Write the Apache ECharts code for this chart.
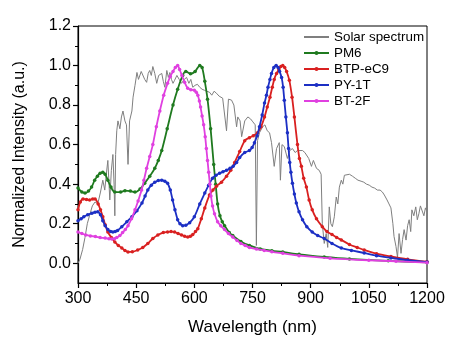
<!DOCTYPE html>
<html>
<head>
<meta charset="utf-8">
<script src="https://cdn.jsdelivr.net/npm/echarts@6/dist/echarts.min.js"></script>
<style>html,body{margin:0;padding:0;background:#fff}#c{width:455px;height:346px}</style>
</head>
<body>
<div id="c"></div>
<script>
const xTicks = [300, 450, 600, 750, 900, 1050, 1200];
const yTickLabels = [0.0, 0.2, 0.4, 0.6, 0.8, 1.0, 1.2];
const yMinorTicks = [0.1, 0.3, 0.5, 0.7, 0.9, 1.1];
const seriesNames = ['Solar spectrum', 'PM6', 'BTP-eC9', 'PY-1T', 'BT-2F'];

const solar = [[300,0.0],[305,0.02],[312,0.07],[318,0.13],[324,0.2],[331,0.25],[337,0.29],[344,0.31],[351,0.3],[358,0.36],[364,0.42],[369,0.37],[373,0.45],[377,0.52],[382,0.32],[386,0.47],[390,0.55],[393,0.4],[395,0.24],[397,0.55],[400,0.67],[403,0.72],[408,0.68],[412,0.74],[416,0.77],[421,0.72],[425,0.7],[429,0.5],[433,0.72],[439,0.77],[442,0.84],[447,0.9],[452,0.965],[456,0.93],[459,0.925],[463,0.97],[467,0.96],[472,0.93],[477,0.915],[481,0.96],[485,0.975],[489,0.95],[493,0.995],[498,0.96],[503,0.91],[508,0.95],[511,0.95],[516,0.96],[520,0.92],[524,0.89],[529,0.975],[533,0.94],[537,0.965],[541,0.93],[545,0.91],[549,0.925],[555,0.95],[561,0.93],[567,0.91],[574,0.93],[580,0.94],[586,0.91],[591,0.93],[596,0.89],[602,0.9],[608,0.905],[614,0.89],[620,0.88],[626,0.875],[632,0.87],[639,0.865],[645,0.85],[651,0.87],[657,0.86],[664,0.845],[673,0.835],[678,0.84],[683,0.67],[688,0.83],[696,0.825],[702,0.8],[709,0.69],[712,0.74],[718,0.72],[722,0.64],[725,0.65],[730,0.72],[738,0.74],[745,0.73],[751,0.715],[757,0.7],[760,0.09],[763,0.62],[768,0.66],[776,0.69],[782,0.7],[788,0.67],[794,0.66],[799,0.61],[806,0.49],[812,0.58],[819,0.61],[822,0.42],[826,0.6],[832,0.59],[840,0.53],[846,0.57],[853,0.58],[860,0.56],[866,0.57],[871,0.57],[879,0.57],[885,0.56],[889,0.555],[895,0.53],[902,0.49],[907,0.52],[915,0.48],[922,0.47],[927,0.45],[930,0.2],[935,0.1],[940,0.15],[944,0.08],[948,0.285],[952,0.2],[956,0.185],[961,0.235],[966,0.335],[970,0.3],[974,0.385],[979,0.42],[983,0.4],[987,0.445],[992,0.455],[1000,0.45],[1008,0.44],[1015,0.43],[1022,0.42],[1030,0.415],[1037,0.41],[1044,0.4],[1051,0.395],[1058,0.385],[1065,0.38],[1072,0.37],[1079,0.37],[1085,0.36],[1090,0.345],[1097,0.32],[1102,0.3],[1107,0.28],[1112,0.2],[1115,0.135],[1120,0.085],[1124,0.03],[1128,0.15],[1133,0.05],[1137,0.12],[1141,0.17],[1146,0.117],[1150,0.19],[1154,0.22],[1158,0.16],[1161,0.27],[1166,0.24],[1171,0.285],[1175,0.22],[1179,0.25],[1183,0.29],[1187,0.285],[1192,0.24],[1196,0.28],[1200,0.26]];

const pm6 = [[300,0.38],[310,0.36],[318,0.355],[327,0.365],[335,0.385],[343,0.42],[350,0.44],[357,0.455],[364,0.46],[370,0.45],[377,0.42],[385,0.385],[395,0.36],[410,0.36],[421,0.367],[435,0.365],[447,0.36],[460,0.375],[472,0.405],[485,0.44],[498,0.48],[507,0.52],[516,0.57],[530,0.68],[545,0.8],[557,0.88],[570,0.95],[578,0.97],[590,0.958],[602,0.97],[614,1.0],[620,0.99],[627,0.92],[634,0.83],[642,0.68],[650,0.5],[655,0.4],[660,0.3],[666,0.24],[672,0.21],[678,0.19],[690,0.155],[699,0.14],[720,0.11],[742,0.09],[770,0.072],[800,0.063],[828,0.057],[870,0.045],[935,0.032],[1000,0.022],[1100,0.012],[1200,0.005]];

const btp = [[300,0.27],[306,0.31],[313,0.325],[322,0.322],[330,0.32],[338,0.325],[344,0.325],[352,0.3],[358,0.27],[364,0.235],[370,0.195],[377,0.158],[386,0.13],[395,0.108],[404,0.09],[413,0.077],[421,0.065],[429,0.057],[440,0.058],[454,0.067],[467,0.08],[480,0.1],[493,0.125],[506,0.143],[520,0.155],[531,0.158],[540,0.16],[549,0.158],[558,0.15],[567,0.143],[575,0.137],[583,0.133],[590,0.137],[596,0.145],[603,0.16],[609,0.175],[618,0.225],[627,0.28],[639,0.345],[648,0.37],[657,0.39],[670,0.41],[683,0.44],[694,0.47],[704,0.51],[717,0.565],[730,0.62],[742,0.635],[752,0.645],[763,0.66],[772,0.69],[781,0.74],[788,0.79],[795,0.84],[801,0.89],[806,0.93],[812,0.96],[818,0.98],[823,0.995],[828,1.0],[833,0.99],[838,0.97],[845,0.925],[852,0.84],[858,0.74],[866,0.6],[871,0.53],[876,0.49],[882,0.43],[889,0.385],[896,0.32],[904,0.27],[915,0.225],[930,0.185],[942,0.16],[955,0.145],[967,0.13],[979,0.118],[1000,0.095],[1020,0.08],[1038,0.067],[1070,0.048],[1107,0.034],[1150,0.02],[1200,0.008]];

const py1t = [[300,0.215],[308,0.225],[315,0.235],[325,0.245],[336,0.253],[344,0.258],[351,0.26],[358,0.245],[364,0.215],[370,0.19],[377,0.17],[384,0.16],[390,0.158],[396,0.16],[402,0.165],[413,0.185],[426,0.21],[439,0.235],[452,0.265],[465,0.305],[473,0.34],[480,0.37],[489,0.395],[498,0.41],[507,0.418],[516,0.42],[524,0.415],[531,0.405],[538,0.37],[544,0.32],[550,0.27],[557,0.22],[563,0.2],[570,0.19],[578,0.192],[588,0.205],[600,0.235],[614,0.3],[627,0.355],[637,0.395],[647,0.43],[656,0.445],[665,0.455],[674,0.463],[683,0.47],[692,0.48],[700,0.49],[709,0.51],[717,0.535],[730,0.56],[742,0.57],[749,0.585],[755,0.61],[762,0.645],[768,0.69],[775,0.75],[781,0.81],[786,0.85],[790,0.89],[795,0.93],[799,0.96],[805,0.99],[811,1.0],[816,0.99],[820,0.97],[825,0.94],[829,0.89],[832,0.825],[836,0.74],[840,0.66],[843,0.58],[846,0.51],[849,0.46],[853,0.405],[858,0.35],[863,0.305],[870,0.26],[879,0.22],[890,0.185],[904,0.158],[918,0.14],[935,0.125],[955,0.1],[979,0.077],[1005,0.065],[1038,0.052],[1070,0.038],[1107,0.027],[1150,0.015],[1200,0.006]];

const bt2f = [[300,0.158],[310,0.15],[320,0.143],[332,0.138],[345,0.135],[357,0.13],[370,0.127],[380,0.124],[387,0.122],[394,0.124],[400,0.13],[408,0.14],[415,0.155],[422,0.17],[429,0.19],[438,0.225],[447,0.27],[455,0.315],[464,0.37],[470,0.42],[477,0.48],[485,0.54],[493,0.6],[502,0.69],[511,0.77],[521,0.85],[531,0.91],[538,0.945],[545,0.97],[551,0.99],[557,1.0],[562,0.98],[568,0.95],[575,0.915],[583,0.885],[591,0.878],[600,0.875],[605,0.865],[609,0.85],[613,0.82],[616,0.79],[620,0.745],[624,0.7],[628,0.64],[631,0.58],[634,0.52],[637,0.46],[640,0.4],[643,0.34],[647,0.29],[652,0.25],[660,0.21],[668,0.19],[678,0.17],[688,0.15],[699,0.133],[710,0.115],[720,0.1],[731,0.09],[742,0.08],[760,0.072],[780,0.065],[800,0.058],[828,0.05],[870,0.038],[950,0.025],[1050,0.015],[1120,0.01],[1200,0.003]];

const colors = ['#7f7f7f', '#1f7a1f', '#d92020', '#1c2fc4', '#e040e0'];
const FONT = '"Liberation Sans", Arial, sans-serif';

function lineSeries(name, data, color, z) {
  return {
    name: name, type: 'line', data: data, smooth: 0.3,
    symbol: 'circle', symbolSize: 3.5, showSymbol: true,
    lineStyle: { color: color, width: 1.8 },
    itemStyle: { color: color },
    z: z, animation: false
  };
}

const chart = echarts.init(document.getElementById('c'), null, { renderer: 'canvas' });
chart.setOption({
  animation: false,
  backgroundColor: '#fff',
  grid: { left: 78, right: 28, top: 26, bottom: 63, show: true, borderColor: '#000', borderWidth: 1, backgroundColor: 'transparent' },
  legend: {
    orient: 'vertical', left: 303, top: 30, padding: 0,
    itemWidth: 25, itemHeight: 5, itemGap: 2,
    textStyle: { fontFamily: FONT, fontSize: 13.4, color: '#000', lineHeight: 14 },
    data: [
      { name: seriesNames[0], itemStyle: { opacity: 0 } },
      seriesNames[1], seriesNames[2], seriesNames[3], seriesNames[4]
    ]
  },
  xAxis: {
    type: 'value', min: 300, max: 1200, interval: 150,
    name: 'Wavelength (nm)', nameLocation: 'middle', nameGap: 36,
    nameTextStyle: { fontFamily: FONT, fontSize: 17, color: '#000' },
    axisLine: { show: true, onZero: false, lineStyle: { color: '#000', width: 1.2 } },
    axisTick: { show: true, inside: false, length: 5, lineStyle: { color: '#000', width: 1.2 } },
    minorTick: { show: true, splitNumber: 2, length: 3, lineStyle: { color: '#000', width: 1 } },
    axisLabel: { fontFamily: FONT, fontSize: 16, color: '#000', margin: 8, formatter: v => String(v) },
    splitLine: { show: false }
  },
  yAxis: [{
    type: 'value', min: -0.1, max: 1.2, interval: 0.1,
    name: 'Normalized Intensity (a.u.)', nameLocation: 'middle', nameGap: 50,
    nameTextStyle: { fontFamily: FONT, fontSize: 16, color: '#000' },
    axisLine: { show: true, onZero: false, lineStyle: { color: '#000', width: 1.2 } },
    axisTick: { show: true, length: 5, customValues: yTickLabels, lineStyle: { color: '#000', width: 1.2 } },
    axisLabel: { fontFamily: FONT, fontSize: 16, color: '#000', margin: 7, customValues: yTickLabels, formatter: v => v.toFixed(1) },
    splitLine: { show: false }
  }, {
    type: 'value', min: -0.1, max: 1.2, interval: 0.1, position: 'left',
    axisLine: { show: false },
    axisTick: { show: true, length: 3, customValues: yMinorTicks, lineStyle: { color: '#000', width: 1 } },
    axisLabel: { show: false },
    splitLine: { show: false }
  }],
  series: [
    { name: seriesNames[0], type: 'line', data: solar, symbol: 'none', lineStyle: { color: colors[0], width: 1 }, itemStyle: { color: colors[0] }, z: 1 },
    lineSeries(seriesNames[1], pm6, colors[1], 2),
    lineSeries(seriesNames[2], btp, colors[2], 3),
    lineSeries(seriesNames[3], py1t, colors[3], 4),
    lineSeries(seriesNames[4], bt2f, colors[4], 5)
  ]
});
</script>
</body>
</html>
